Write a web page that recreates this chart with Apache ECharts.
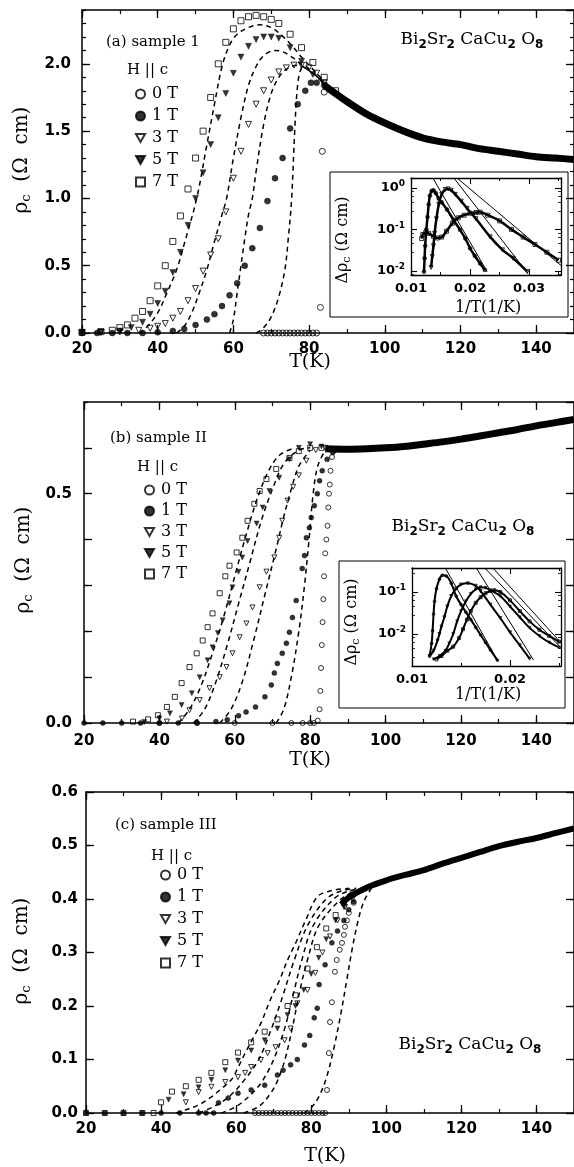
<!DOCTYPE html>
<html><head><meta charset="utf-8">
<script src="https://cdn.jsdelivr.net/npm/echarts/dist/echarts.min.js"></script>
<style>html,body{margin:0;padding:0;background:#fff}#c{width:574px;height:1167px}</style>
</head><body><div id="c"></div>
<script>
// ---------------- DATA ----------------
// Panel (a) sample 1 : [T (K), rho_c (Ohm cm)]
const a0T = [[68,0],[69,0],[70,0],[71,0],[72,0],[73,0],[74,0],[75,0],[76,0],[77,0],[78,0],[79,0],[80,0],[81,0],[82,0],[83,0.19],[83.5,1.35],[84,1.79]];
const a1T = [[20,0],[24,0],[28,0],[32,0],[36,0],[40,0.005],[44,0.015],[47,0.03],[50,0.06],[53,0.10],[55,0.14],[57,0.20],[59,0.28],[61,0.37],[63,0.50],[65,0.63],[67,0.78],[69,0.98],[71,1.15],[73,1.30],[75,1.52],[77,1.70],[79,1.80],[80.5,1.86],[82,1.86],[84,1.84]];
const a3T = [[20,0.003],[25,0.005],[30,0.008],[35,0.02],[38,0.035],[40,0.05],[42,0.07],[44,0.11],[46,0.16],[48,0.24],[50,0.33],[52,0.46],[54,0.58],[56,0.70],[58,0.90],[60,1.15],[62,1.35],[64,1.55],[66,1.70],[68,1.80],[70,1.88],[72,1.94],[74,1.97],[76,1.99],[78,1.99],[80,1.97],[82,1.93],[84,1.86]];
const a5T = [[20,0.003],[25,0.006],[30,0.015],[33,0.04],[36,0.08],[38,0.14],[40,0.22],[42,0.31],[44,0.45],[46,0.60],[48,0.80],[50,1.00],[52,1.19],[54,1.40],[56,1.60],[58,1.78],[60,1.93],[62,2.05],[64,2.13],[66,2.18],[68,2.20],[70,2.20],[72,2.19],[75,2.12],[78,2.02],[81,1.92],[84,1.84]];
const a7T = [[20,0.005],[25,0.01],[28,0.02],[30,0.04],[32,0.06],[34,0.11],[36,0.16],[38,0.24],[40,0.35],[42,0.50],[44,0.68],[46,0.87],[48,1.07],[50,1.30],[52,1.50],[54,1.75],[56,2.0],[58,2.16],[60,2.26],[62,2.32],[64,2.35],[66,2.36],[68,2.35],[70,2.33],[72,2.30],[75,2.22],[78,2.12],[81,2.01],[84,1.90],[87,1.80]];
const aNormal = [[84,1.84],[85,1.82],[90,1.72],[95,1.63],[100,1.56],[105,1.50],[110,1.45],[115,1.42],[120,1.40],[125,1.37],[130,1.35],[135,1.33],[140,1.31],[145,1.30],[150,1.29]];
const aFit7 = [[35,0],[37,0.04],[40,0.15],[42,0.27],[45,0.47],[47,0.66],[50.3,1.0],[53,1.4],[55,1.7],[57,1.98],[59,2.14],[61,2.22],[64,2.27],[67,2.29],[70,2.27],[72,2.23],[75,2.15],[78,2.05],[81,1.96],[84,1.87]];
const aFit5 = [[45,0],[47,0.05],[49,0.15],[51,0.3],[53,0.47],[55,0.68],[57,0.88],[58.2,1.0],[60,1.3],[62,1.6],[64,1.84],[66,1.98],[68,2.06],[71,2.10],[73,2.09],[76,2.04],[79,1.97],[82,1.91],[85,1.84]];
const aFit3 = [[59,0],[60,0.1],[61,0.3],[62,0.5],[63,0.7],[64,0.88],[65,1.0],[66,1.2],[68,1.55],[70,1.78],[72,1.9],[74,1.96],[77,1.99],[80,1.95],[84,1.86]];
const aFit1 = [[66,0],[68,0.04],[70,0.12],[72,0.27],[73.6,0.47],[74.5,0.7],[75.4,1.0],[76.2,1.5],[77,1.85],[78,1.97],[79,1.98],[81,1.93],[84,1.85]];

// Panel (b) sample II
const b0T = [[40,0],[50,0],[60,0],[70,0],[75,0],[78,0],[80,0],[81,0],[82,0.005],[82.5,0.03],[82.7,0.07],[82.9,0.12],[83.1,0.17],[83.3,0.22],[83.5,0.27],[83.7,0.32],[84,0.37],[84.3,0.40],[84.6,0.43],[84.8,0.47],[85,0.50],[85.2,0.52],[85.4,0.55],[85.8,0.58],[86.5,0.595]];
const b1T = [[20,0],[25,0],[30,0],[35,0],[40,0],[45,0],[50,0],[55,0.003],[58,0.007],[61,0.016],[63,0.024],[65.5,0.035],[68,0.057],[69.7,0.083],[70.5,0.109],[71.3,0.13],[72.6,0.152],[73.7,0.174],[74.5,0.198],[75.3,0.23],[76.3,0.267],[77.9,0.337],[78.5,0.365],[79,0.404],[79.8,0.426],[80.3,0.448],[81.1,0.474],[81.9,0.50],[82.5,0.528],[83.2,0.55],[84.5,0.575],[86,0.59]];
const b3T = [[42,0.003],[46,0.01],[48,0.028],[50.7,0.05],[53.3,0.076],[56,0.10],[57.8,0.122],[59.4,0.152],[61.3,0.187],[63.1,0.217],[64.7,0.252],[66.6,0.296],[68.4,0.33],[70.5,0.361],[71.8,0.404],[72.6,0.441],[74,0.485],[75.5,0.515],[77,0.54],[79,0.572],[81.5,0.595],[84,0.60]];
const b5T = [[36,0.002],[40,0.01],[42.8,0.021],[45.9,0.039],[48.6,0.065],[50.7,0.10],[52.8,0.137],[54.1,0.165],[55.5,0.196],[56.8,0.224],[58.6,0.261],[59.4,0.296],[61,0.33],[62,0.361],[63.4,0.397],[65.8,0.435],[67.4,0.47],[69.2,0.506],[71.8,0.535],[74.5,0.575],[77,0.60],[80,0.608],[83,0.603]];
const b7T = [[33,0.003],[37,0.008],[39.6,0.017],[42,0.035],[44.1,0.057],[45.9,0.087],[48,0.122],[49.9,0.152],[51.5,0.18],[52.8,0.209],[54.1,0.239],[56,0.283],[57.5,0.32],[58.6,0.343],[60.5,0.372],[62,0.404],[63.4,0.441],[65.2,0.478],[66.6,0.506],[68.4,0.532],[71,0.554],[74.5,0.578],[77,0.593],[80,0.60],[83,0.60]];
const bNormal = [[84,0.598],[90,0.597],[95,0.598],[100,0.600],[105,0.603],[110,0.608],[115,0.613],[120,0.619],[125,0.626],[130,0.633],[135,0.640],[140,0.648],[145,0.655],[150,0.662]];
const bFit7 = [[45,0],[48,0.03],[51,0.08],[54,0.15],[57,0.23],[60,0.32],[63,0.41],[66,0.49],[69,0.55],[72,0.585],[76,0.60]];
const bFit5 = [[49,0],[52,0.03],[55,0.09],[58,0.17],[61,0.26],[64,0.35],[67,0.44],[70,0.51],[73,0.565],[77,0.595],[80,0.60]];
const bFit3 = [[56,0],[59,0.03],[62,0.09],[65,0.18],[68,0.28],[71,0.38],[73,0.45],[75,0.51],[77,0.56],[80,0.595]];
const bFit1 = [[71,0],[73,0.03],[75,0.10],[77,0.20],[78.5,0.30],[79.7,0.40],[80.8,0.50],[82,0.56],[84,0.595]];

// Panel (c) sample III
const c0T = [[65,0],[66,0],[67,0],[68,0],[69,0],[70,0],[71,0],[72,0],[73,0],[74,0],[75,0],[76,0],[77,0],[78,0],[79,0],[80,0],[81,0],[82,0],[83,0],[83.7,0],[84.2,0.043],[84.7,0.112],[85,0.17],[85.5,0.207],[86.3,0.264],[86.8,0.286],[87.6,0.305],[88.2,0.318],[88.7,0.333],[89,0.348],[89.5,0.36],[90,0.374],[91.3,0.393]];
const c1T = [[20,0],[25,0],[30,0],[35,0],[40,0],[45,0],[50,0],[52,0],[54,0],[55.3,0.019],[57.9,0.028],[60.5,0.037],[64,0.043],[67.6,0.052],[71,0.071],[72.5,0.08],[74.5,0.09],[76.3,0.10],[78.2,0.127],[79.6,0.145],[80.8,0.178],[81.6,0.196],[82.1,0.24],[83.7,0.277],[85.5,0.318],[87,0.34],[88.7,0.36],[90,0.38],[91.3,0.395]];
const c3T = [[46.6,0.02],[50,0.039],[53.4,0.049],[57.1,0.058],[60.5,0.067],[62.4,0.075],[64,0.086],[66.6,0.099],[68.4,0.112],[70.5,0.123],[72.9,0.136],[74.5,0.158],[76.3,0.205],[79,0.23],[81.1,0.262],[83,0.30],[85,0.33],[87,0.36],[89,0.385],[91,0.40]];
const c5T = [[42,0.025],[46,0.035],[50,0.048],[53.4,0.062],[57.1,0.08],[60.5,0.098],[64,0.117],[67.6,0.136],[71,0.158],[73.7,0.183],[75.8,0.20],[78,0.23],[80,0.26],[82,0.29],[84,0.325],[86.5,0.36],[88.7,0.385],[91,0.405]];
const c7T = [[20,0],[25,0],[30,0],[35,0],[38,0],[40,0.02],[42.9,0.04],[46.6,0.05],[50,0.062],[53.4,0.075],[57.1,0.095],[60.5,0.113],[64,0.132],[67.6,0.152],[71,0.175],[73.7,0.20],[75.8,0.22],[79,0.27],[81.5,0.31],[84,0.345],[86.5,0.37],[88.7,0.393],[91,0.41]];
const cNormal = [[88,0.39],[90,0.403],[95,0.422],[100,0.435],[105,0.445],[110,0.454],[115,0.466],[120,0.477],[125,0.488],[130,0.499],[135,0.507],[140,0.514],[145,0.523],[150,0.532]];
const cFit7 = [[44,0],[46.6,0.006],[50,0.015],[53.4,0.03],[56,0.045],[58.7,0.062],[60.5,0.085],[62.4,0.112],[64.5,0.14],[66.6,0.168],[69,0.21],[71.6,0.249],[73.7,0.286],[76,0.32],[78.5,0.36],[81.6,0.404],[85,0.415],[90,0.42]];
const cFit5 = [[50,0],[54,0.012],[58,0.03],[62,0.06],[66,0.1],[69,0.15],[72,0.21],[75.5,0.286],[79,0.35],[84,0.40],[88,0.415],[92,0.42]];
const cFit3 = [[56,0],[60,0.012],[64,0.035],[67,0.06],[70,0.1],[73,0.16],[75.5,0.23],[77.5,0.286],[80.5,0.35],[86,0.40],[90,0.415],[94,0.42]];
const cFit1 = [[62,0],[66,0.012],[69,0.035],[71,0.06],[73,0.1],[75,0.16],[77,0.23],[79,0.286],[82,0.35],[88,0.40],[92,0.415],[95,0.42]];
const cFit0 = [[78,0],[80,0.01],[82,0.03],[84,0.065],[86,0.12],[88,0.19],[89.5,0.25],[91,0.31],[92.5,0.36],[94,0.395],[96,0.42]];

// Insets: [1/T (1/K), delta rho_c (Ohm cm)]
const ia1 = [[0.0122,0.0095],[0.0123,0.02],[0.0124,0.04],[0.0126,0.1],[0.0128,0.2],[0.013,0.4],[0.0132,0.65],[0.0135,0.85],[0.0138,0.88],[0.0142,0.75],[0.0147,0.55],[0.0152,0.45],[0.0161,0.30],[0.0172,0.17],[0.0183,0.098],[0.0192,0.06],[0.0200,0.035],[0.0208,0.023],[0.0217,0.015],[0.0225,0.0105]];
const ia3 = [[0.0134,0.012],[0.0136,0.022],[0.0138,0.04],[0.014,0.08],[0.0143,0.18],[0.0147,0.4],[0.0152,0.7],[0.0158,0.92],[0.0163,0.95],[0.0168,0.88],[0.0175,0.7],[0.0185,0.48],[0.0195,0.32],[0.021,0.18],[0.0234,0.066],[0.0255,0.032],[0.0273,0.02],[0.0297,0.0095]];
const ia7 = [[0.0118,0.06],[0.012,0.075],[0.0125,0.085],[0.013,0.08],[0.0138,0.068],[0.0145,0.062],[0.0152,0.065],[0.016,0.09],[0.017,0.14],[0.018,0.19],[0.019,0.22],[0.020,0.245],[0.021,0.255],[0.0217,0.26],[0.023,0.22],[0.025,0.16],[0.027,0.10],[0.029,0.065],[0.031,0.043],[0.033,0.028],[0.035,0.018]];
const iaLine1 = [[0.0137,1.74],[0.0229,0.0095]];
const iaLine3 = [[0.01726,1.74],[0.0297,0.0089]];
const iaLine7 = [[0.0178,1.74],[0.0354,0.0134]];
const ib1 = [[0.0118,0.003],[0.012,0.006],[0.0121,0.012],[0.0122,0.03],[0.0123,0.06],[0.0125,0.12],[0.0128,0.2],[0.0131,0.25],[0.0135,0.24],[0.014,0.16],[0.0145,0.08],[0.015,0.05],[0.0155,0.033],[0.016,0.022],[0.0165,0.0145],[0.017,0.0095],[0.0175,0.0063],[0.018,0.0042],[0.0187,0.0024]];
const ib3 = [[0.0118,0.003],[0.0122,0.004],[0.0126,0.007],[0.0128,0.01],[0.013,0.015],[0.0133,0.025],[0.0136,0.045],[0.014,0.08],[0.0145,0.12],[0.015,0.15],[0.0157,0.16],[0.0165,0.14],[0.017,0.105],[0.018,0.05],[0.019,0.024],[0.020,0.011],[0.021,0.0054],[0.022,0.0026]];
const ib5 = [[0.0122,0.0025],[0.0128,0.003],[0.0134,0.004],[0.0138,0.006],[0.0142,0.01],[0.0146,0.02],[0.015,0.035],[0.0155,0.06],[0.016,0.09],[0.0165,0.115],[0.017,0.13],[0.0175,0.125],[0.018,0.11],[0.019,0.08],[0.020,0.045],[0.021,0.025],[0.022,0.014],[0.023,0.009],[0.024,0.0063],[0.025,0.0048]];
const ib7 = [[0.0125,0.0025],[0.013,0.003],[0.0136,0.004],[0.0142,0.005],[0.0148,0.008],[0.0152,0.013],[0.0156,0.022],[0.016,0.035],[0.0165,0.055],[0.017,0.075],[0.0175,0.093],[0.018,0.105],[0.0184,0.11],[0.019,0.10],[0.020,0.063],[0.021,0.035],[0.022,0.02],[0.023,0.0126],[0.024,0.009],[0.025,0.0066]];
const ibLine1 = [[0.0134,0.37],[0.0188,0.0022]];
const ibLine3 = [[0.01656,0.37],[0.0224,0.0024]];
const ibLine5 = [[0.01743,0.37],[0.0252,0.0047]];
const ibLine7 = [[0.01825,0.37],[0.0252,0.0062]];

const fieldLabels = ['0 T','1 T','3 T','5 T','7 T'];

// ---------------- STYLE / LAYOUT ----------------
const SERIF = 'DejaVu Serif', SANS = 'DejaVu Sans';
const K = '#000';
const xAxis = [], yAxis = [];
const lineSt = {show:true, onZero:false, lineStyle:{color:K, width:1.5}};
function base(g, o){
  return Object.assign({type:'value', gridIndex:g, splitLine:{show:false}, axisLine:{show:false,onZero:false},
    axisLabel:{show:false}, axisTick:{show:true, inside:true, length:4, lineStyle:{color:K,width:1.2}}}, o);
}
function lab(o){ return Object.assign({show:true, color:K, fontFamily:SANS, fontWeight:'bold', fontSize:15}, o); }
const majTick = {show:true,inside:true,length:8,lineStyle:{color:K,width:1.3}};
function mainAxes(g, xr, yr, yLab, yMin, yFmt, xm, ym, showMax){
  const xi = xAxis.length;
  xAxis.push(base(g,{position:'bottom',min:xr[0],max:xr[1],interval:20,axisLine:lineSt,axisTick:majTick,axisLabel:lab({margin:xm,showMaxLabel:false})}));
  xAxis.push(base(g,{position:'top',min:xr[0],max:xr[1],interval:20,axisLine:lineSt,axisTick:majTick}));
  xAxis.push(base(g,{position:'bottom',min:xr[0],max:xr[1],interval:10}));
  xAxis.push(base(g,{position:'top',min:xr[0],max:xr[1],interval:10}));
  const yi = yAxis.length;
  yAxis.push(base(g,{position:'left',min:yr[0],max:yr[1],interval:yLab,axisLine:lineSt,axisTick:majTick,axisLabel:lab({margin:ym,formatter:yFmt,showMaxLabel:showMax})}));
  yAxis.push(base(g,{position:'right',min:yr[0],max:yr[1],interval:yLab,axisLine:lineSt,axisTick:majTick}));
  yAxis.push(base(g,{position:'left',min:yr[0],max:yr[1],interval:yMin}));
  yAxis.push(base(g,{position:'right',min:yr[0],max:yr[1],interval:yMin}));
  return {x:xi, y:yi};
}
function supFmt(v){ const e = Math.round(Math.log10(v)); return '{b|10}{s|' + e + '}'; }
function insetAxes(g, xr, yr){
  const xi = xAxis.length;
  const il = {show:true,onZero:false,lineStyle:{color:K,width:1.3}};
  const it = {show:true,inside:true,length:6,lineStyle:{color:K,width:1.1}};
  const it2 = {show:true,inside:true,length:3,lineStyle:{color:K,width:1}};
  xAxis.push(base(g,{position:'bottom',min:xr[0],max:xr[1],interval:0.01,axisLine:il,axisTick:it,axisLabel:lab({fontSize:13,margin:7,showMaxLabel:false,formatter:v=>v.toFixed(2)})}));
  xAxis.push(base(g,{position:'top',min:xr[0],max:xr[1],interval:0.01,axisLine:il,axisTick:it}));
  xAxis.push(base(g,{position:'bottom',min:xr[0],max:xr[1],interval:0.005,axisTick:it2}));
  xAxis.push(base(g,{position:'top',min:xr[0],max:xr[1],interval:0.005,axisTick:it2}));
  const yi = yAxis.length;
  const ylog = (pos, withLab)=>base(g,{type:'log',logBase:10,position:pos,min:yr[0],max:yr[1],axisLine:il,axisTick:it,
    minorTick:{show:true,splitNumber:5,length:3,lineStyle:{color:K,width:0.8}},
    axisLabel: withLab ? {show:true,margin:6,showMinLabel:false,showMaxLabel:false,formatter:supFmt,
      rich:{b:{fontFamily:SANS,fontWeight:'bold',fontSize:13,color:K},s:{fontFamily:SANS,fontWeight:'bold',fontSize:9,color:K,verticalAlign:'top',padding:[0,0,8,0]}}} : {show:false}});
  yAxis.push(ylog('left',true));
  yAxis.push(ylog('right',false));
  return {x:xi,y:yi};
}
const fmtA = v => (Math.abs(v*2-Math.round(v*2))<1e-6) ? v.toFixed(1) : '';
const fmtB = v => (Math.abs(v)<1e-6||Math.abs(v-0.5)<1e-6) ? v.toFixed(1) : '';
const fmtC = v => v.toFixed(1);

const grids = [
  {left:82, top:10, width:494, height:323},
  {left:84, top:402, width:493, height:321},
  {left:86, top:792, width:494, height:321},
  {left:411, top:178, width:150, height:97},
  {left:412, top:568, width:149, height:98}
];
const A = mainAxes(0,[20,150],[0,2.4],0.5,0.1,fmtA,9,11,false);
const B = mainAxes(1,[20,150],[0,0.7],0.1,0.1,fmtB,11,12,false);
const C = mainAxes(2,[20,150],[0,0.6],0.1,0.1,fmtC,9,8,true);
const IA = insetAxes(3,[0.01,0.0354],[0.0079,1.74]);
const IB = insetAxes(4,[0.01,0.0252],[0.00174,0.37]);

const open = {color:'rgba(0,0,0,0)', borderColor:K, borderWidth:1};
const fill = {color:K, borderColor:K, borderWidth:0.5};
const sym = [
  {symbol:'circle', itemStyle:open, rot:0},
  {symbol:'circle', itemStyle:fill, rot:0},
  {symbol:'triangle', itemStyle:open, rot:180},
  {symbol:'triangle', itemStyle:fill, rot:180},
  {symbol:'rect', itemStyle:open, rot:0}
];
const series = [];
function scat(name, ax, data, k, size){
  series.push({type:'scatter', name:name, xAxisIndex:ax.x, yAxisIndex:ax.y, data:data, symbol:sym[k].symbol,
    symbolRotate:sym[k].rot, symbolSize:size, itemStyle:sym[k].itemStyle, z:3, silent:true, animation:false});
}
function dash(ax, data, w){
  series.push({type:'line', xAxisIndex:ax.x, yAxisIndex:ax.y, data:data, showSymbol:false, smooth:0.35,
    lineStyle:{color:K, width:w||1.5, type:[5,4]}, z:2, silent:true, animation:false});
}
function solid(ax, data, w, smooth){
  series.push({type:'line', xAxisIndex:ax.x, yAxisIndex:ax.y, data:data, showSymbol:false, smooth:smooth===undefined?0.3:smooth,
    lineStyle:{color:K, width:w}, z:2, silent:true, animation:false});
}
// panel a
solid(A, aNormal, 7);
[aFit7,aFit5,aFit3,aFit1].forEach(d=>dash(A,d,1.5));
[a0T,a1T,a3T,a5T,a7T].forEach((d,k)=>scat('a|'+fieldLabels[k], A, d, k, 6));
// panel b
solid(B, bNormal, 7);
[bFit7,bFit5,bFit3,bFit1].forEach(d=>dash(B,d,1.5));
[b0T,b1T,b3T,b5T,b7T].forEach((d,k)=>scat('b|'+fieldLabels[k], B, d, k, 5));
// panel c
solid(C, cNormal, 6);
[cFit7,cFit5,cFit3,cFit1,cFit0].forEach(d=>dash(C,d,1.5));
[c0T,c1T,c3T,c5T,c7T].forEach((d,k)=>scat('c|'+fieldLabels[k], C, d, k, 5));
// insets
[ia1,ia3,ia7].forEach(d=>solid(IA,d,2.5,0.4));
scat('ia|1', IA, ia1, 1, 4); scat('ia|3', IA, ia3, 2, 4); scat('ia|7', IA, ia7, 4, 4);
[iaLine1,iaLine3,iaLine7].forEach(d=>solid(IA,d,1,0));
[ib1,ib3,ib5,ib7].forEach(d=>solid(IB,d,2,0.4));
scat('ib|1', IB, ib1, 1, 3); scat('ib|3', IB, ib3, 2, 3); scat('ib|5', IB, ib5, 3, 3); scat('ib|7', IB, ib7, 4, 3);
[ibLine1,ibLine3,ibLine5,ibLine7].forEach(d=>solid(IB,d,1,0));

const downTri = 'path://M0,0L10,0L5,8.7Z';
function legendFor(p, left, top, gap){
  return {data: fieldLabels.map((l,k)=>(k===2||k===3) ? {name:p+'|'+l, icon:downTri} : {name:p+'|'+l}),
    orient:'vertical', left:left, top:top, itemGap:gap, itemWidth:9, itemHeight:9,
    selectedMode:false, formatter:n=>n.split('|')[1], textStyle:{fontFamily:SERIF, fontSize:16, color:K, padding:[0,0,0,2]}};
}
const formula = '{n|Bi}{s|2}{n|Sr}{s|2}{n| CaCu}{s|2}{n| O}{s|8}';
const formulaRich = {n:{fontFamily:SERIF,fontSize:17,color:K,lineHeight:22},s:{fontFamily:SANS,fontWeight:'bold',fontSize:12,color:K,lineHeight:22,padding:[9,0,0,0]}};
function txt(x,y,t,size,align){ return {type:'text', x:x, y:y, z:20, style:{text:t, fontFamily:SERIF, fontSize:size||15, fill:K, textVerticalAlign:'middle', textAlign:align||'left'}}; }
function rtxt(x,y,t,rich,extra){ return Object.assign({type:'text', x:x, y:y, z:20, style:{text:t, rich:rich, fill:K, textVerticalAlign:'middle', textAlign:'center'}}, extra||{}); }
const rhoRich = {n:{fontFamily:SERIF,fontSize:20,color:K,lineHeight:26},s:{fontFamily:SERIF,fontSize:13,color:K,lineHeight:26,padding:[10,0,0,0]}};
const rhoRichS = {n:{fontFamily:SERIF,fontSize:16,color:K,lineHeight:20},s:{fontFamily:SERIF,fontSize:11,color:K,lineHeight:20,padding:[8,0,0,0]}};
const rhoTitle = '{n|ρ}{s|c}{n|  (Ω  cm)}';
const drhoTitle = '{n|Δρ}{s|c}{n| (Ω cm)}';

const graphic = [
  txt(106,42,'(a) sample 1',15), txt(127,70,'H || c',15),
  rtxt(472,40,formula,formulaRich),
  txt(110,438,'(b) sample II',15), txt(137,467,'H || c',15),
  rtxt(463,527,formula,formulaRich),
  txt(115,825,'(c) sample III',15), txt(151,856,'H || c',15),
  rtxt(470,1045,formula,formulaRich),
  txt(310,362,'T(K)',19,'center'),
  txt(310,760,'T(K)',19,'center'),
  txt(325,1156,'T(K)',19,'center'),
  rtxt(22,160,rhoTitle,rhoRich,{rotation:Math.PI/2}),
  rtxt(24,560,rhoTitle,rhoRich,{rotation:Math.PI/2}),
  rtxt(22,951,rhoTitle,rhoRich,{rotation:Math.PI/2}),
  rtxt(343,240,drhoTitle,rhoRichS,{rotation:Math.PI/2}),
  rtxt(352,622,drhoTitle,rhoRichS,{rotation:Math.PI/2}),
  txt(488,308,'1/T(1/K)',16,'center'),
  txt(488,695,'1/T(1/K)',16,'center'),
  {type:'rect', z:1, shape:{x:330,y:172,width:238,height:145}, style:{fill:'none', stroke:K, lineWidth:1}},
  {type:'rect', z:1, shape:{x:339,y:561,width:226,height:147}, style:{fill:'none', stroke:K, lineWidth:1}}
];

const chart = echarts.init(document.getElementById('c'), null, {renderer:'canvas'});
chart.setOption({
  animation:false, backgroundColor:'#fff',
  grid: grids,
  xAxis: xAxis, yAxis: yAxis, series: series,
  legend: [legendFor('a',130,81,6), legendFor('b',139,477,5), legendFor('c',155,862,6)],
  graphic: graphic
});
</script></body></html>
